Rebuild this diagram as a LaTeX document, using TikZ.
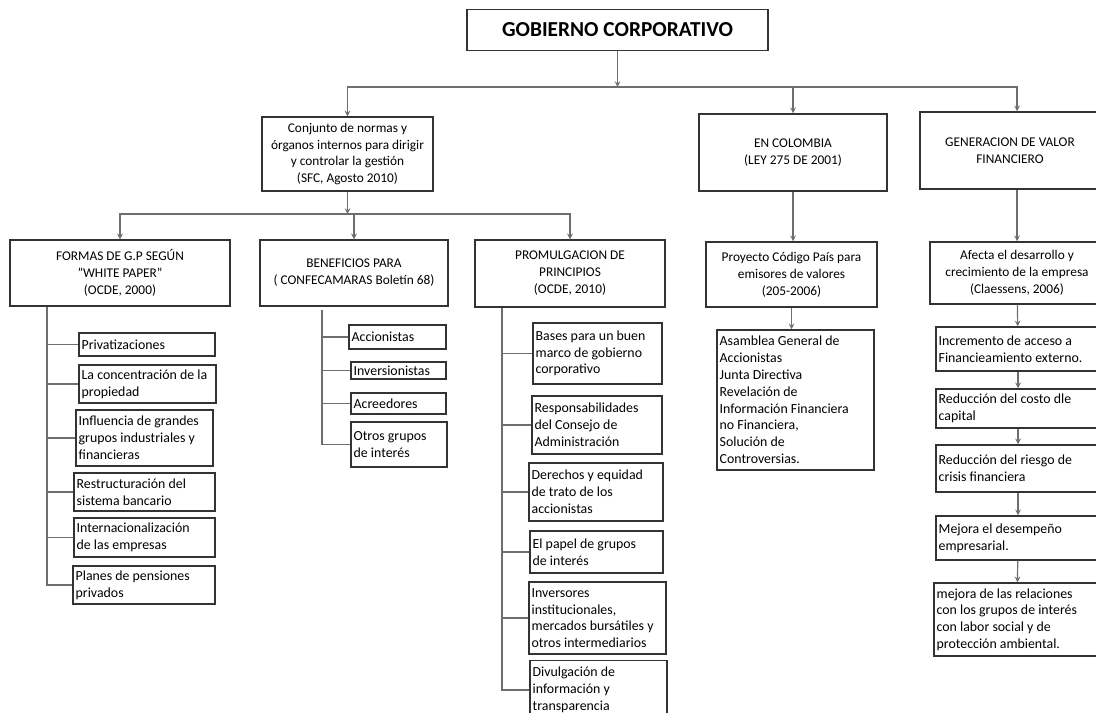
\documentclass[tikz,border=0pt]{standalone}
\usepackage{fontspec}
\setmainfont{Carlito}
\usepackage{tikz}
\definecolor{BoxLine}{HTML}{333333}
\definecolor{ConnGray}{HTML}{6E6E6E}

\begin{document}
\begin{tikzpicture}[x=0.75pt,y=-0.75pt,>=stealth,
  hbox/.style={draw=BoxLine,line width=1.1pt,align=center,inner sep=2pt,font=\fontsize{10}{12.7}\selectfont},
  lbox/.style={draw=BoxLine,line width=1.1pt,align=flush left,inner sep=2pt,font=\fontsize{10.4}{12.6}\selectfont},
  arr/.style={->,line width=0.9pt,color=ConnGray},
  lnk/.style={line width=0.9pt,color=ConnGray}]
  \useasboundingbox (0,0) rectangle (1096,713);
  \node[draw=BoxLine,line width=1.1pt,minimum width=225.75pt,minimum height=30.75pt,
    font=\fontsize{16}{19}\selectfont\bfseries] (gob) at (617.5,30) {GOBIERNO CORPORATIVO};
  \node[hbox,minimum width=128.25pt,minimum height=55.5pt] (conj) at (347.5,154)
    {Conjunto de normas y\\órganos internos para dirigir\\y controlar la gestión\\(SFC, Agosto 2010)};
  \node[hbox,minimum width=141pt,minimum height=57.75pt] (col) at (793,152.5)
    {EN COLOMBIA\\(LEY 275 DE 2001)};
  \node[hbox,minimum width=135pt,minimum height=57.75pt] (gen) at (1010,150.5)
    {GENERACION DE VALOR\\FINANCIERO};
  \node[hbox,minimum width=165pt,minimum height=49.5pt] (formas) at (120,273)
    {FORMAS DE G.P SEGÚN\\\symbol{34}WHITE PAPER\symbol{34}\\(OCDE, 2000)};
  \node[hbox,minimum width=141pt,minimum height=49.5pt] (benef) at (354,273)
    {BENEFICIOS PARA\\( CONFECAMARAS Boletín 68)};
  \node[hbox,minimum width=142.5pt,minimum height=50.25pt] (prom) at (570,273.5)
    {PROMULGACION DE\\PRINCIPIOS\\(OCDE, 2010)};
  \node[hbox,minimum width=128.25pt,minimum height=48.75pt] (proy) at (791.5,274.5)
    {Proyecto Código País para\\emisores de valores\\(205-2006)};
  \node[hbox,minimum width=130.5pt,minimum height=46.5pt] (afecta) at (1017,273)
    {Afecta el desarrollo y\\crecimiento de la empresa\\(Claessens, 2006)};

  \node[lbox,minimum width=117.75pt,minimum height=105pt,text width=113.75pt] (asam) at (795.5,400)
    {Asamblea General de\\Accionistas\\Junta Directiva\\Revelación de\\Información Financiera\\no Financiera,\\Solución de\\Controversias.};
  \node[lbox,minimum width=123pt,minimum height=33pt,text width=119pt] (incr) at (1018,349)
    {Incremento de acceso a\\Financieamiento externo.};
  \node[lbox,minimum width=123pt,minimum height=29.25pt,text width=119pt] (costo) at (1018,408.5)
    {Reducción del costo dle\\capital};
  \node[lbox,minimum width=123pt,minimum height=35.25pt,text width=119pt] (riesgo) at (1018,468.5)
    {Reducción del riesgo de\\crisis financiera};
  \node[lbox,minimum width=123pt,minimum height=33pt,text width=119pt] (mejora) at (1018,538)
    {Mejora el desempeño\\empresarial.};
  \node[lbox,minimum width=124.5pt,minimum height=54.75pt,text width=120.5pt] (relac) at (1017,619.5)
    {mejora de las relaciones\\con los grupos de interés\\con labor social y de\\protección ambiental.};

  \node[lbox,minimum width=102pt,minimum height=17.25pt,text width=98pt] (f1) at (147,344.5)
    {Privatizaciones};
  \node[lbox,minimum width=102.75pt,minimum height=28.5pt,text width=98.75pt] (f2) at (147.5,384)
    {La concentración de la\\propiedad};
  \node[lbox,minimum width=102.75pt,minimum height=42pt,text width=98.75pt] (f3) at (144.5,438)
    {Influencia de grandes\\grupos industriales y\\financieras};
  \node[lbox,minimum width=105.75pt,minimum height=28.5pt,text width=101.75pt] (f4) at (144.5,492)
    {Restructuración del\\sistema bancario};
  \node[lbox,minimum width=105.75pt,minimum height=29.25pt,text width=101.75pt] (f5) at (144.5,537.5)
    {Internacionalización\\de las empresas};
  \node[lbox,minimum width=106.5pt,minimum height=28.5pt,text width=102.5pt] (f6) at (144,585)
    {Planes de pensiones\\privados};

  \node[lbox,minimum width=72.75pt,minimum height=18pt,text width=68.75pt] (b1) at (397.5,337)
    {Accionistas};
  \node[lbox,minimum width=71.25pt,minimum height=12.75pt,text width=67.25pt] (b2) at (398.5,370.5)
    {Inversionistas};
  \node[lbox,minimum width=71.25pt,minimum height=15.75pt,text width=67.25pt] (b3) at (398.5,403.5)
    {Acreedores};
  \node[lbox,minimum width=72pt,minimum height=33.75pt,text width=68pt] (b4) at (399,444.5)
    {Otros grupos\\de interés};

  \node[lbox,minimum width=96.75pt,minimum height=45.75pt,text width=92.75pt] (p1) at (597.5,353.5)
    {Bases para un buen\\marco de gobierno\\corporativo};
  \node[lbox,minimum width=97.5pt,minimum height=43.5pt,text width=93.5pt] (p2) at (597,425)
    {Responsabilidades\\del Consejo de\\Administración};
  \node[lbox,minimum width=100.5pt,minimum height=43.5pt,text width=96.5pt] (p3) at (596,492)
    {Derechos y equidad\\de trato de los\\accionistas};
  \node[lbox,minimum width=99.75pt,minimum height=31.5pt,text width=95.75pt] (p4) at (596.5,552)
    {El papel de grupos\\de interés};
  \node[lbox,minimum width=102.75pt,minimum height=54pt,text width=98.75pt] (p5) at (597.5,618)
    {Inversores\\institucionales,\\mercados bursátiles y\\otros intermediarios};
  \node[lbox,minimum width=102.75pt,minimum height=44.25pt,text width=98.75pt] (p6) at (598.5,690)
    {Divulgación de\\información y\\transparencia};

  \coordinate (bus1) at (617.5,87);
  \coordinate (bus2) at (347.5,214);
  \coordinate (ftrunk) at (47,307);
  \coordinate (btrunk) at (322,310);
  \coordinate (ptrunk) at (502,308);

  \draw[arr] (gob)--(bus1);
  \draw[arr] (bus1)-|(conj);
  \draw[arr] (bus1)-|(col);
  \draw[arr] (bus1)-|(afecta |- gen.north);
  \draw[arr] (conj)--(bus2);
  \draw[arr] (bus2)-|(formas);
  \draw[arr] (bus2)-|(benef);
  \draw[arr] (bus2)-|(prom);
  \draw[arr] (col)--(col |- proy.north);
  \draw[arr] (afecta |- gen.south)--(afecta);
  \draw[arr] (proy)--(proy |- asam.north);
  \draw[arr] (afecta)--(incr);
  \draw[arr] (incr)--(costo);
  \draw[arr] (costo)--(riesgo);
  \draw[arr] (riesgo)--(mejora);
  \draw[arr] (mejora)--(relac);
  \foreach \i in {1,...,6} \draw[lnk] (ftrunk)|-(f\i.west);
  \foreach \i in {1,...,4} \draw[lnk] (btrunk)|-(b\i.west);
  \foreach \i in {1,...,6} \draw[lnk] (ptrunk)|-(p\i.west);
\end{tikzpicture}
\end{document}
